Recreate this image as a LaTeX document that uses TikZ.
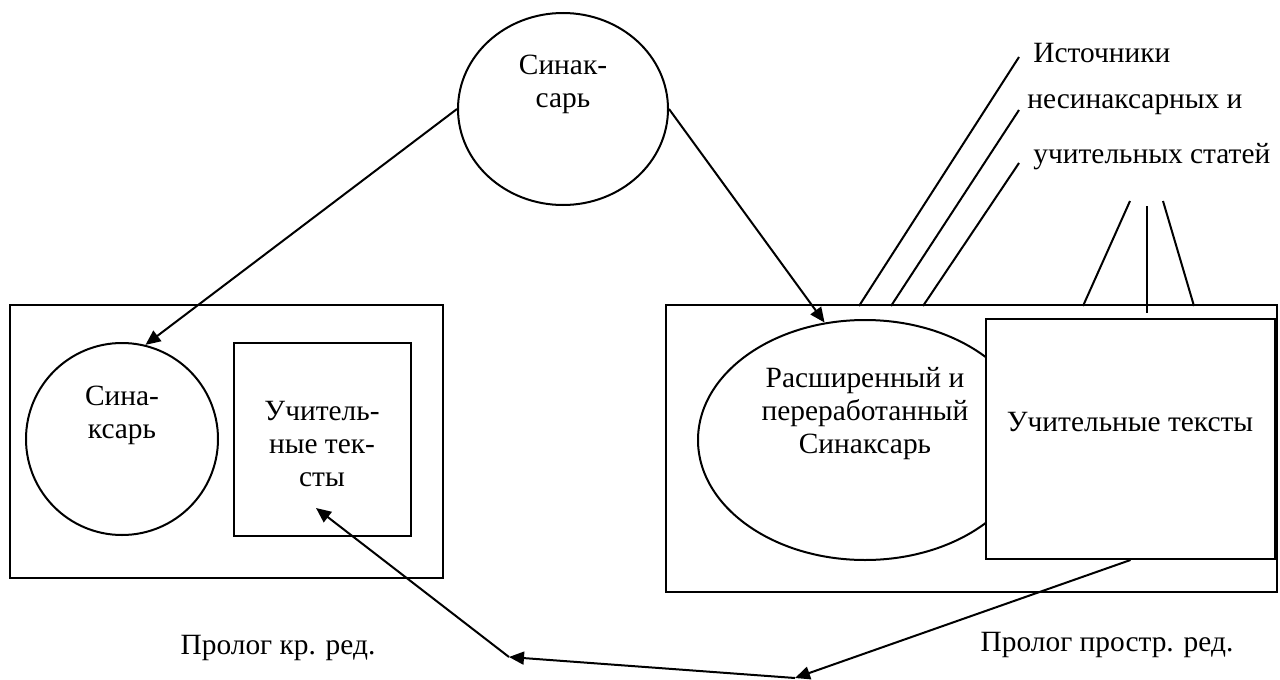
\documentclass[tikz,border=0pt]{standalone}
\usepackage{fontspec}
\setmainfont{Liberation Serif}
\usetikzlibrary{arrows.meta, positioning, shapes.geometric}

\begin{document}
\begin{tikzpicture}[
    x=0.5pt, y=-0.5pt,
    every node/.style={font=\fontsize{14.7pt}{16.5pt}\selectfont},
    outline/.style={
        draw,
        line width=1pt,
        inner sep=0pt
    },
    boxnode/.style={
        outline,
        rectangle,
        fill=white
    },
    roundnode/.style={
        outline,
        ellipse
    },
    caption/.style={
        align=center,
        inner sep=0pt
    },
    link/.style={
        -{Triangle[length=7.5pt, width=6.5pt]},
        line width=1pt
    },
    source/.style={
        line width=1pt
    }
]
    \useasboundingbox (0,0) rectangle (1280,680);

    % top: the Synaxarion
    \node[roundnode, minimum width=105pt, minimum height=96pt] (topsyn) at (563,109) {};
    \node[caption] (topsyntext) at (563,84) {Синак-\\сарь};

    % short edition
    \node[boxnode, minimum width=216.5pt, minimum height=136.5pt] (shortbox) at (226.5,441.5) {};
    \node[roundnode, circle, minimum size=96pt] (shortsyn) at (122,439) {};
    \node[caption] (shortsyntext) at (122,415) {Сина-\\ксарь};
    \node[boxnode, minimum width=88.5pt, minimum height=96.5pt] (shorttexts) at (322.5,439.5) {};
    \node[caption] (shorttextstext) at (322,444) {Учитель-\\ные тек-\\сты};
    \node[caption] (shortname) at (278,648) {Пролог кр. ред.};

    % extended edition
    \node[boxnode, minimum width=305.5pt, minimum height=143.5pt] (longbox) at (971.5,448.5) {};
    \node[roundnode, minimum width=167pt, minimum height=120pt] (longsyn) at (865,440) {};
    \node[caption] (longsyntext) at (865,414) {Расширенный и\\переработанный\\Синаксарь};
    \node[boxnode, minimum width=144.5pt, minimum height=120pt] (longtexts) at (1130.5,439) {};
    \node[caption] (longtextstext) at (1130,422) {Учительные тексты};
    \node[caption] (longname) at (1107,645) {Пролог простр. ред.};

    % sources
    \node[caption, anchor=west] (srcone) at (1033,53) {Источники};
    \node[caption, anchor=west] (srctwo) at (1027,105) {несинаксарных и};
    \node[caption, anchor=west] (srcthree) at (1033,157) {учительных статей};

    \coordinate (srconeend) at (1019,57);
    \coordinate (srctwoend) at (1019,110);
    \coordinate (srcthreeend) at (1019,163);
    \coordinate (fanleft) at (1130,201);
    \coordinate (fanmid) at (1147,206);
    \coordinate (fanright) at (1163,201);

    \draw[source] (srconeend) -- (859,306);
    \draw[source] (srctwoend) -- (891,306);
    \draw[source] (srcthreeend) -- (923,306);
    \draw[source] (fanleft) -- (1083,306);
    \draw[source] (fanmid) -- (1147,313);
    \draw[source] (fanright) -- (1194,306);

    % arrows
    \coordinate (meet) at (795,678);
    \coordinate (hub) at (509,657);
    \coordinate (shortpoint) at (316,508);

    \draw[link] (topsyn.west) -- (shortsyn.76);
    \draw[link] (topsyn.east) -- (longsyn.109);
    \draw[link] (longtexts.south) -- (meet);
    \draw[link] (meet) -- (hub);
    \draw[link] (hub) -- (shortpoint);
\end{tikzpicture}
\end{document}
